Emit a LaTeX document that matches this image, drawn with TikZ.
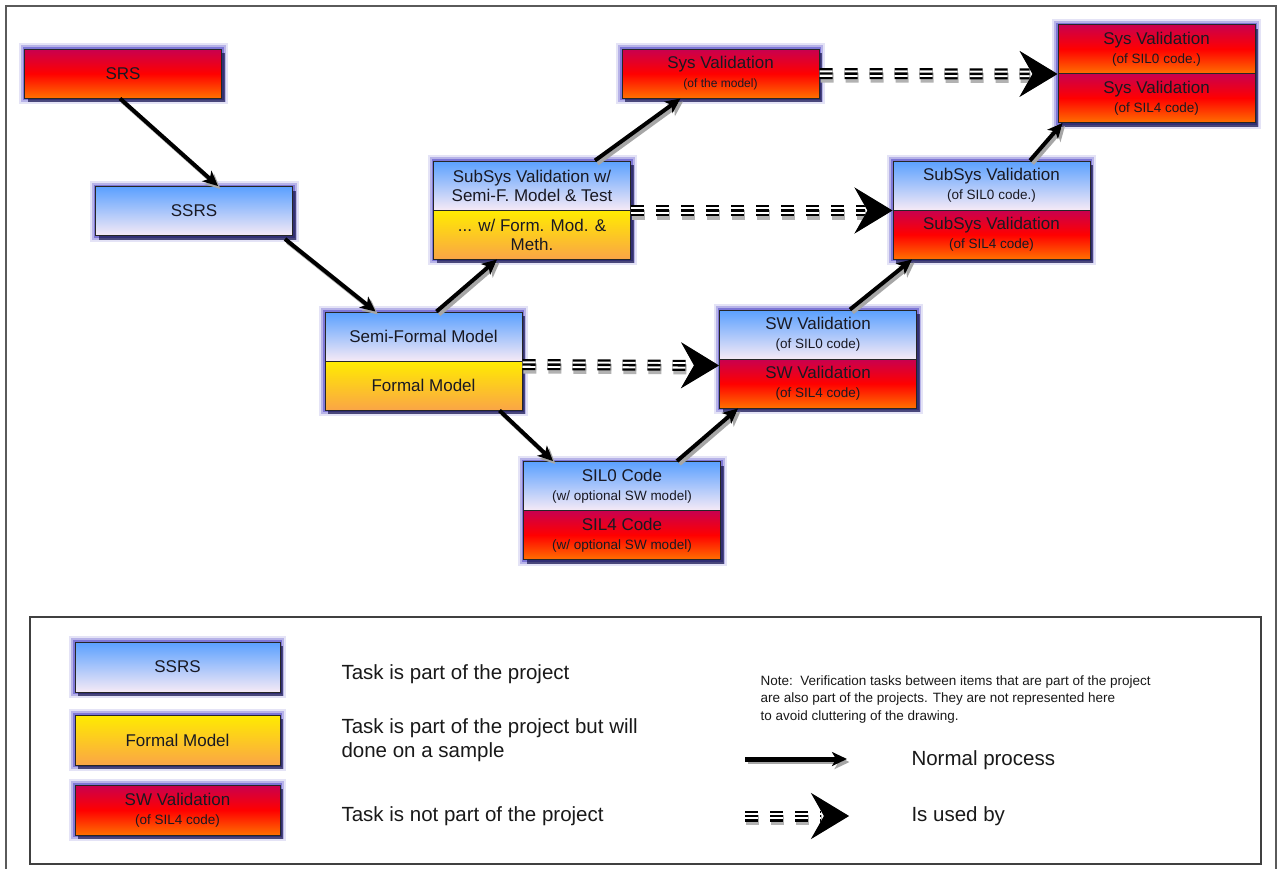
\documentclass[tikz,border=0pt]{standalone}
\usepackage{fontspec}
\setmainfont{Liberation Sans}
\usetikzlibrary{arrows.meta,shadows,decorations.markings}

\definecolor{redtop}{RGB}{200,0,80}
\definecolor{redmid}{RGB}{255,0,0}
\definecolor{redbot}{RGB}{255,112,0}
\definecolor{bluetop}{RGB}{90,160,255}
\definecolor{bluebot}{RGB}{246,234,246}
\definecolor{yeltop}{RGB}{255,236,0}
\definecolor{yelbot}{RGB}{250,165,70}
\definecolor{glowc}{RGB}{80,70,200}
\definecolor{txt}{RGB}{25,25,35}
\definecolor{framec}{RGB}{90,90,90}

\newcommand{\subtxt}[1]{{\fontsize{13.5}{15}\selectfont #1}}

\tikzset{
  halo/.style={rectangle, inner sep=0pt,
    preaction={draw=glowc, line width=12pt, opacity=0.15},
    preaction={draw=glowc, line width=8pt, opacity=0.3},
    preaction={draw=glowc, line width=4pt, opacity=0.55},
    drop shadow={shadow xshift=3pt, shadow yshift=-4pt, fill=black!80!blue, opacity=0.6}},
  part/.style={rectangle, draw=black!85, line width=1pt, minimum width=197pt,
    minimum height=49pt, inner sep=1pt, align=center, text=txt,
    font=\fontsize{17}{19}\selectfont},
  redbox/.style={part, top color=redtop, bottom color=redbot, middle color=redmid},
  bluebox/.style={part, top color=bluetop, bottom color=bluebot},
  yelbox/.style={part, top color=yeltop, bottom color=yelbot},
  pairhalo/.style={halo, minimum width=197pt, minimum height=98pt},
  flow/.style={line width=4pt, draw=black,
    -{Stealth[length=15pt,width=14pt,inset=4pt]},
    preaction={draw=black!35, line width=4pt, -{Stealth[length=15pt,width=14pt,inset=4pt]},
      transform canvas={xshift=2.5pt,yshift=-3pt}}},
  usedby/.style={draw=black, line width=2.4pt, dash pattern=on 13pt off 12pt, shorten >=28pt,
    preaction={draw=black!30, line width=10pt, dash pattern=on 13pt off 12pt, shorten >=28pt,
      transform canvas={xshift=1pt,yshift=-4pt}},
    preaction={draw=black, line width=11pt, dash pattern=on 13pt off 12pt, shorten >=28pt},
    preaction={draw=white, line width=6.5pt, dash pattern=on 13pt off 12pt, shorten >=28pt},
    postaction={decorate, transform canvas={xshift=2pt,yshift=-4pt},
      decoration={markings, mark=at position 1 with
        {\arrow[black!35, line width=1pt]{Stealth[length=38pt,width=46pt,inset=13pt]}}}},
    postaction={decorate,
      decoration={markings, mark=at position 1 with
        {\arrow[black, line width=1pt]{Stealth[length=38pt,width=46pt,inset=13pt]}}}}},
  legtext/.style={anchor=west, align=left, text=black!90,
    font=\fontsize{20.5}{24}\selectfont}
}

\begin{document}
\begin{tikzpicture}[x=1pt, y=-1pt]
\useasboundingbox (0,0) rectangle (1279,868);
\fill[white] (0,0) rectangle (1279,868);
% frames
\draw[framec, line width=1.6pt] (6,6) rectangle (1276,890);
\draw[black!75, line width=1.2pt] (30,617) rectangle (1261,864);

% single boxes
\node[halo, redbox] (srs) at (123,73.5) {SRS};
\node[halo, bluebox] (ssrs) at (194,211) {SSRS};
\node[halo, redbox] (sysm) at (720.5,73.5) {Sys Validation\\{\fontsize{12}{14}\selectfont (of the model)}};

% pairs
\node[pairhalo] (subwh) at (532,210) {};
\node[bluebox] (subw0) at (532,185.5) {SubSys Validation w/\\Semi-F. Model \& Test};
\node[yelbox] (subw4) at (532,234.5) {... w/ Form. Mod. \&\\Meth.};

\node[pairhalo] (semih) at (423.5,361) {};
\node[bluebox] (semi) at (423.5,336.5) {Semi-Formal Model};
\node[yelbox] (formal) at (423.5,385.5) {Formal Model};

\node[pairhalo] (silh) at (622,510.5) {};
\node[bluebox] (sil0) at (622,486) {SIL0 Code\\\subtxt{(w/ optional SW model)}};
\node[redbox] (sil4) at (622,535) {SIL4 Code\\\subtxt{(w/ optional SW model)}};

\node[pairhalo] (swvh) at (818,359) {};
\node[bluebox] (swv0) at (818,334.5) {SW Validation\\\subtxt{(of SIL0 code)}};
\node[redbox] (swv4) at (818,383.5) {SW Validation\\\subtxt{(of SIL4 code)}};

\node[pairhalo] (subrh) at (991.5,210) {};
\node[bluebox] (subr0) at (991.5,185.5) {SubSys Validation\\\subtxt{(of SIL0 code.)}};
\node[redbox] (subr4) at (991.5,234.5) {SubSys Validation\\\subtxt{(of SIL4 code)}};

\node[pairhalo] (sysrh) at (1156.5,73.5) {};
\node[redbox] (sysr0) at (1156.5,49) {Sys Validation\\\subtxt{(of SIL0 code.)}};
\node[redbox] (sysr4) at (1156.5,98) {Sys Validation\\\subtxt{(of SIL4 code)}};

% normal process arrows
\draw[flow] ([xshift=-3pt]srs.south) -- ([xshift=24pt]ssrs.north);
\draw[flow] ([xshift=-8pt,yshift=-3pt]ssrs.south east) -- ([xshift=-48pt]semi.north);
\draw[flow] ([xshift=13pt]semi.north) -- ([xshift=-35pt]subw4.south);
\draw[flow] ([xshift=63pt]subw0.north) -- ([xshift=-40pt]sysm.south);
\draw[flow] ([xshift=76pt]formal.south) -- ([xshift=-69pt]sil0.north);
\draw[flow] ([xshift=55pt]sil0.north) -- ([xshift=-80pt]swv4.south);
\draw[flow] ([xshift=32pt]swv0.north) -- ([xshift=-79.5pt]subr4.south);
\draw[flow] ([xshift=38.5pt]subr0.north) -- ([xshift=-94pt]sysr4.south);

% used-by arrows
\draw[usedby] ([yshift=-3pt]semi.south east) -- ([yshift=-6pt]swv0.south west);
\draw[usedby] (subw0.south east) -- (subr0.south west);
\draw[usedby] (sysm.east) -- (sysr0.south west);

% legend
\node[halo, bluebox, minimum width=205pt, minimum height=50pt] (leg1) at (177.5,667) {SSRS};
\node[halo, yelbox, minimum width=205pt, minimum height=50pt] (leg2) at (177.5,740) {Formal Model};
\node[halo, redbox, minimum width=205pt, minimum height=50pt] (leg3) at (177.5,810)
  {SW Validation\\\subtxt{(of SIL4 code)}};

\node[legtext] (lt1) at (338,674) {Task is part of the project};
\node[legtext] (lt2) at (338,740) {Task is part of the project but will\\done on a sample};
\node[legtext] (lt3) at (338,816) {Task is not part of the project};

\node[anchor=west, align=left, text=black!90, font=\fontsize{13.5}{17.5}\selectfont] (note) at (757,699)
  {Note:\ \ Verification tasks between items that are part of the project\\
   are also part of the projects. They are not represented here\\
   to avoid cluttering of the drawing.};

\coordinate (np1) at (745,759);
\coordinate (np2) at (847,759);
\draw[flow, line width=5pt] (np1) -- (np2);
\node[legtext] (npt) at (908,760) {Normal process};

\coordinate (ub1) at (745,816);
\coordinate (ub2) at (849,816);
\draw[usedby] (ub1) -- (ub2);
\node[legtext] (ubt) at (908,816) {Is used by};
\end{tikzpicture}
\end{document}
